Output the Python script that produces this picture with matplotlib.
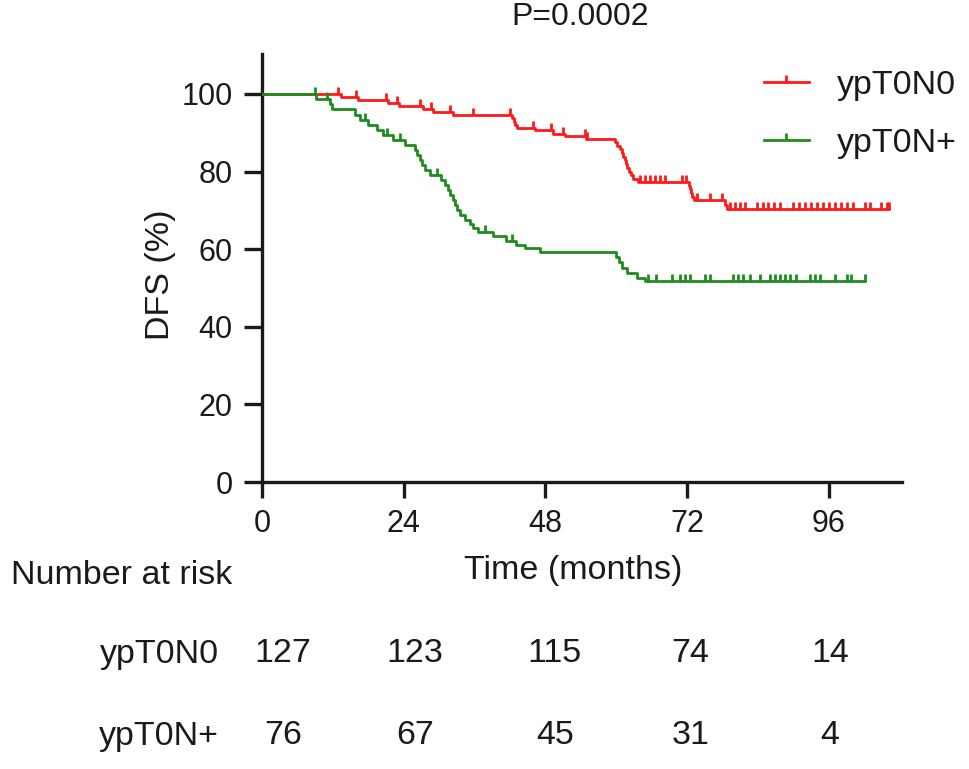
import numpy as np
import matplotlib
matplotlib.use("Agg")
import matplotlib.pyplot as plt
from matplotlib.path import Path
from matplotlib.lines import Line2D

plt.rcParams['font.family'] = ['Liberation Sans', 'DejaVu Sans']

# ---------------- data ----------------
groups = ["ypT0N0", "ypT0N+"]

red_event_t = [13.3, 16.3, 21.3, 23.2, 27.2, 29.0, 32.3, 42.3, 42.6, 42.9, 43.2,
               46.2, 49.3, 51.3, 54.9, 59.8, 60.2, 60.6, 60.9, 61.1, 61.4, 61.7,
               61.9, 62.1, 62.5, 62.9, 63.7, 72.3, 72.5, 72.7, 72.9, 73.2, 78.4, 78.7]
red_event_s = [99.2, 98.4, 97.6, 96.9, 96.1, 95.3, 94.5, 93.7, 92.9, 92.1, 91.3,
               90.6, 89.8, 89.2, 88.5, 87.6, 86.7, 85.7, 84.8, 83.8, 82.9, 81.9,
               81.0, 80.0, 79.1, 78.2, 77.4, 76.4, 75.4, 74.4, 73.5, 72.6, 71.5, 70.3]
red_censor_t = [12.9, 15.9, 21.0, 22.8, 26.8, 28.7, 31.9, 35.8, 42.0, 45.9, 49.0,
                51.0, 54.7, 55.0, 64.0, 64.9, 65.7, 66.6, 67.4, 68.3, 71.1, 71.8,
                73.7, 75.9, 77.9, 79.2, 80.1, 80.9, 81.8, 83.8, 84.8, 85.7, 86.7,
                87.7, 90.0, 91.0, 92.0, 93.0, 94.0, 95.0, 96.0, 97.0, 98.0, 99.0,
                100.1, 102.1, 103.0, 104.9, 105.8, 106.2]

green_event_t = [9.2, 11.5, 11.8, 15.7, 16.6, 18.0, 19.4, 20.5, 22.2, 24.2, 25.9,
                 26.2, 26.7, 27.1, 27.6, 28.4, 30.4, 31.0, 31.5, 31.9, 32.3, 32.7,
                 33.0, 33.5, 34.4, 35.2, 35.8, 36.6, 39.2, 41.4, 43.1, 44.5, 47.1,
                 60.0, 60.5, 61.0, 61.8, 63.5, 64.8]
green_event_s = [98.7, 97.4, 96.0, 94.7, 93.4, 92.1, 90.8, 89.5, 88.2, 86.9, 85.6,
                 84.3, 83.0, 81.7, 80.4, 79.1, 77.8, 76.5, 75.2, 73.9, 72.6, 71.3,
                 70.0, 68.8, 67.6, 66.5, 65.4, 64.4, 63.3, 62.2, 61.1, 60.4, 59.4,
                 58.0, 56.6, 55.2, 53.9, 52.7, 51.7]
green_censor_t = [9.0, 11.0, 17.4, 21.1, 23.4, 29.6, 37.8, 42.3, 65.4, 66.7, 69.5,
                  70.8, 71.6, 72.5, 75.0, 75.9, 79.8, 80.6, 81.5, 82.6, 84.3, 86.0,
                  86.9, 87.7, 88.6, 89.4, 90.5, 92.8, 93.6, 94.5, 97.0, 99.0, 99.8,
                  102.1]

x_ticks = [0, 24, 48, 72, 96]
y_ticks = [0, 20, 40, 60, 80, 100]
risk_times = [0, 24, 48, 72, 96]
risk_n0 = [127, 123, 115, 74, 14]
risk_np = [76, 67, 45, 31, 4]
p_text = "P=0.0002"

# ---------------- layout / style ----------------
RED = "#FF1A1A"
GREEN = "#1E8C1E"
TXT = "#1a1a1a"
FS = 24.5
TICK_FS = 22
LW = 2.0
risk_x_shift = [3.6, 1.9, 1.6, 0.6, 0.2]

W, H = 969, 769
fig = plt.figure(figsize=(W / 100, H / 100), dpi=100)
ax = fig.add_axes([262 / W, 1 - 482 / H, 640 / W, 428 / H])

tick_marker = Path([(0, 0), (0, 1)], [Path.MOVETO, Path.LINETO])


def km_curve(ev_t, ev_s, cen_t):
    end = max(max(ev_t), max(cen_t))
    xs = [0.0] + list(ev_t) + [end]
    ys = [100.0] + list(ev_s) + [ev_s[-1]]
    ev_t_arr = np.array(ev_t)
    ev_s_arr = np.array(ev_s)
    cy = []
    for c in cen_t:
        idx = np.searchsorted(ev_t_arr, c, side='right') - 1
        cy.append(100.0 if idx < 0 else ev_s_arr[idx])
    return xs, ys, cy


for ev_t, ev_s, cen_t, col, lab in [
    (red_event_t, red_event_s, red_censor_t, RED, groups[0]),
    (green_event_t, green_event_s, green_censor_t, GREEN, groups[1]),
]:
    xs, ys, cy = km_curve(ev_t, ev_s, cen_t)
    ax.plot(xs, ys, drawstyle='steps-post', color=col, lw=LW, zorder=3)
    ax.plot(cen_t, cy, linestyle='none', marker=tick_marker, markersize=10,
            markeredgewidth=LW, color=col, zorder=3)

handles = [Line2D([0], [0], color=c, lw=LW, marker=tick_marker, markersize=10,
                  markeredgewidth=LW) for c in (RED, GREEN)]
leg = ax.legend(handles, groups, loc='upper left',
                bbox_to_anchor=(764 / W, 1 - 70 / H), bbox_transform=fig.transFigure,
                frameon=False, fontsize=FS, handlelength=1.32, handletextpad=0.82,
                labelspacing=0.78, borderpad=0, borderaxespad=0, numpoints=1)
for t in leg.get_texts():
    t.set_color(TXT)

ax.set_xlim(0, 108.4)
ax.set_ylim(0, 110.3)
ax.set_xticks(x_ticks)
ax.set_yticks(y_ticks)
ax.spines['top'].set_visible(False)
ax.spines['right'].set_visible(False)
for s in ('left', 'bottom'):
    ax.spines[s].set_linewidth(2.4)
    ax.spines[s].set_color(TXT)
ax.tick_params(axis='y', length=13, width=2.4, pad=8, labelsize=TICK_FS, colors=TXT)
ax.tick_params(axis='x', length=11.5, width=2.4, pad=8, labelsize=TICK_FS, colors=TXT)

ax.set_ylabel("DFS (%)", fontsize=FS, color=TXT)
ax.yaxis.set_label_coords((160 - 262) / 640, (482 - 275) / 428)
ax.yaxis.label.set_va('center')
ax.set_xlabel("Time (months)", fontsize=FS, color=TXT)
ax.xaxis.set_label_coords((573 - 262) / 640, (482 - 571) / 428)
ax.xaxis.label.set_va('center')

ax.set_title(p_text, fontsize=23, color=TXT, x=(580 - 262) / 640,
             y=1 + (54 - 25) / 428, va='center')

# risk table
fig.text(11 / W, 1 - 575 / H, "Number at risk", fontsize=FS, color=TXT,
         ha='left', va='center')
row_y = [654, 736]
for lab, ry, vals in zip(groups, row_y, [risk_n0, risk_np]):
    fig.text(219 / W, 1 - ry / H, lab, fontsize=FS, color=TXT, ha='right', va='center')
    for t, sh, v in zip(risk_times, risk_x_shift, vals):
        xf = fig.transFigure.inverted().transform(ax.transData.transform((t + sh, 0)))[0]
        fig.text(xf, 1 - ry / H, str(v), fontsize=FS, color=TXT, ha='center', va='center')

fig.savefig("out.png", dpi=100, facecolor='white')
